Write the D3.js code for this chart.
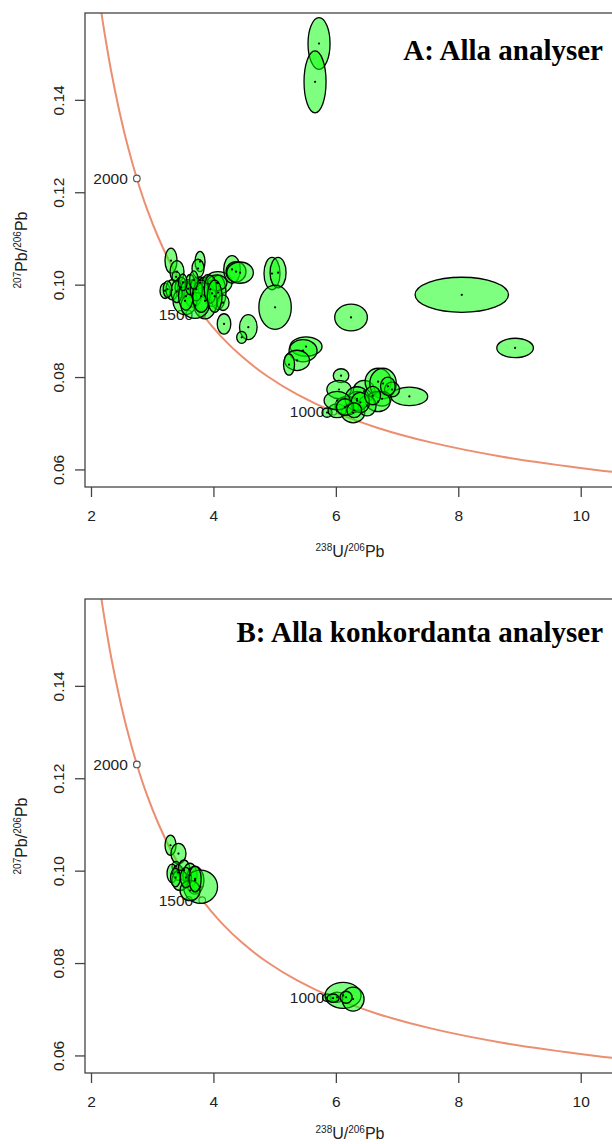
<!DOCTYPE html>
<html>
<head>
<meta charset="utf-8">
<script src="https://cdn.jsdelivr.net/npm/d3@7"></script>
<style>
  body { margin: 0; background: #fff; }
  svg text { font-family: "Liberation Sans", Arial, sans-serif; fill: #222; }
  .title { font-family: "Liberation Serif", "Times New Roman", serif; font-weight: bold; fill: #000; }
</style>
</head>
<body>
<svg width="612" height="1144"></svg>
<script>
// ---- data ----
const xTicks = [2, 4, 6, 8, 10];
const yTicks = [0.06, 0.08, 0.10, 0.12, 0.14];
const ageLabels = [2000, 1500, 1000];

// concordia (age in Ma, 238U/206Pb, 207Pb/206Pb)
const concAge = [2450, 2400, 2300, 2200, 2100, 2000, 1900, 1800, 1700, 1600, 1500, 1400, 1300, 1200, 1100, 1000, 900, 800, 700, 600, 580];
const concX = [2.163, 2.217, 2.332, 2.459, 2.597, 2.749, 2.917, 3.105, 3.314, 3.550, 3.817, 4.123, 4.476, 4.888, 5.375, 5.959, 6.674, 7.568, 8.718, 10.252, 10.622];
const concY = [0.15947, 0.15484, 0.14603, 0.13782, 0.13015, 0.12299, 0.11629, 0.11004, 0.10419, 0.09872, 0.09360, 0.08881, 0.08432, 0.08012, 0.07619, 0.07250, 0.06904, 0.06580, 0.06276, 0.05990, 0.05935];

// A: all analyses (centre and half axes of each error ellipse)
const aX = [5.725, 5.660, 8.057, 6.248, 8.928, 7.201,
  4.957, 5.056, 5.007, 4.173, 4.570, 4.462,
  4.075, 4.304, 4.369, 4.435,
  3.307, 3.405, 3.389, 3.781, 3.748, 3.209, 3.324, 3.471, 3.585, 3.667, 3.781, 3.846, 3.912, 3.977, 4.075, 3.863, 3.536, 3.699, 4.157, 4.059,
  3.250, 3.400, 3.550, 3.620, 3.720, 3.800, 3.950, 4.020, 3.680, 3.500,
  5.513, 5.464, 5.366, 5.235,
  6.085, 6.052, 6.461, 6.690, 6.771, 6.918, 6.346, 6.755, 6.690, 6.281, 5.856, 6.020, 6.183, 6.510, 6.346, 6.020,
  6.400, 6.600, 6.150, 6.850, 6.300];
const aY = [0.1522, 0.1439, 0.0978, 0.0929, 0.0863, 0.0758,
  0.1024, 0.1026, 0.0951, 0.0915, 0.0908, 0.0886,
  0.1004, 0.1033, 0.1028, 0.1026,
  0.1052, 0.1028, 0.1017, 0.1050, 0.1035, 0.0987, 0.0989, 0.0994, 0.0991, 0.0981, 0.1004, 0.0994, 0.1002, 0.0981, 0.0983, 0.0965, 0.0965, 0.0955, 0.0961, 0.1004,
  0.0990, 0.0985, 0.0975, 0.1000, 0.0990, 0.0975, 0.0990, 0.0975, 0.1010, 0.1005,
  0.0866, 0.0857, 0.0836, 0.0827,
  0.0803, 0.0773, 0.0769, 0.0790, 0.0786, 0.0773, 0.0749, 0.0753, 0.0747, 0.0723, 0.0723, 0.0727, 0.0738, 0.0738, 0.0753, 0.0749,
  0.0745, 0.0760, 0.0735, 0.0780, 0.0728];
const aErrX = [0.18, 0.18, 0.763, 0.267, 0.299, 0.299,
  0.131, 0.131, 0.265, 0.111, 0.144, 0.082,
  0.229, 0.136, 0.163, 0.217,
  0.098, 0.114, 0.065, 0.082, 0.098, 0.082, 0.098, 0.098, 0.114, 0.147, 0.082, 0.098, 0.098, 0.131, 0.131, 0.196, 0.196, 0.229, 0.098, 0.163,
  0.070, 0.090, 0.120, 0.080, 0.100, 0.140, 0.100, 0.120, 0.070, 0.070,
  0.261, 0.229, 0.204, 0.090,
  0.127, 0.199, 0.180, 0.212, 0.217, 0.123, 0.150, 0.150, 0.196, 0.191, 0.082, 0.147, 0.196, 0.147, 0.196, 0.212,
  0.150, 0.130, 0.140, 0.120, 0.120];
const aErrY = [0.0056, 0.0067, 0.0038, 0.0029, 0.0021, 0.0020,
  0.0035, 0.0033, 0.0048, 0.0022, 0.0027, 0.0013,
  0.0024, 0.0030, 0.0022, 0.0023,
  0.0027, 0.0024, 0.0011, 0.0022, 0.0020, 0.0017, 0.0022, 0.0022, 0.0020, 0.0030, 0.0013, 0.0022, 0.0020, 0.0028, 0.0037, 0.0039, 0.0030, 0.0028, 0.0017, 0.0017,
  0.0018, 0.0024, 0.0030, 0.0022, 0.0025, 0.0035, 0.0030, 0.0035, 0.0020, 0.0018,
  0.0021, 0.0024, 0.0022, 0.0023,
  0.0015, 0.0020, 0.0024, 0.0029, 0.0033, 0.0016, 0.0020, 0.0016, 0.0022, 0.0022, 0.0010, 0.0015, 0.0020, 0.0022, 0.0026, 0.0020,
  0.0022, 0.0020, 0.0018, 0.0020, 0.0016];

// B: concordant analyses only
const bX = [3.299, 3.429, 3.389, 3.324, 3.422, 3.520, 3.618, 3.699, 3.789, 3.454, 3.618, 3.380, 3.550, 3.700,
  5.856, 6.020, 6.118, 6.281, 6.167, 5.954];
const bY = [0.1055, 0.1037, 0.1009, 0.0994, 0.0996, 0.1001, 0.0990, 0.0979, 0.0965, 0.0979, 0.0957, 0.0985, 0.0985, 0.0982,
  0.0725, 0.0726, 0.0730, 0.0722, 0.0726, 0.0724];
const bErrX = [0.090, 0.123, 0.065, 0.082, 0.082, 0.098, 0.114, 0.147, 0.278, 0.131, 0.163, 0.080, 0.090, 0.100,
  0.074, 0.114, 0.294, 0.180, 0.098, 0.098];
const bErrY = [0.0022, 0.0022, 0.0011, 0.0020, 0.0017, 0.0022, 0.0026, 0.0030, 0.0036, 0.0022, 0.0022, 0.0020, 0.0022, 0.0028,
  0.0008, 0.0011, 0.0028, 0.0026, 0.0013, 0.0009];

// ---- layout ----
const svg = d3.select('svg');
const plotLeft = 85;
const plotRight = 615;
const plotHeight = 474;

const xScale = d3.scaleLinear().domain([1.902, 10.56]).range([plotLeft, plotRight]);
const yScale = d3.scaleLinear().domain([0.0562, 0.1588]).range([plotHeight, 0]);

const concordia = concX.map((x, i) => ({ age: concAge[i], x, y: concY[i] }));

const drawPanel = (props) => {
  const { id, top, title, titleY, xTitleY, xs, ys, errX, errY } = props;
  const rows = xs.map((x, i) => ({ x, y: ys[i], ex: errX[i], ey: errY[i] }));

  const g = svg.append('g').attr('transform', `translate(0, ${top})`);

  g.append('clipPath').attr('id', 'clip-' + id)
    .append('rect')
      .attr('x', plotLeft).attr('y', 0)
      .attr('width', plotRight - plotLeft).attr('height', plotHeight);

  const inner = g.append('g').attr('clip-path', `url(#clip-${id})`);

  // concordia line
  const line = d3.line()
    .x(d => xScale(d.x))
    .y(d => yScale(d.y))
    .curve(d3.curveCatmullRom);
  inner.append('path')
    .datum(concordia)
    .attr('d', line)
    .attr('fill', 'none')
    .attr('stroke', '#EC8E70')
    .attr('stroke-width', 2);

  // age ticks on concordia
  const ages = concordia.filter(d => ageLabels.includes(d.age));
  inner.selectAll('circle.age').data(ages)
    .join('circle')
      .attr('class', 'age')
      .attr('cx', d => xScale(d.x))
      .attr('cy', d => yScale(d.y))
      .attr('r', 3.3)
      .attr('fill', '#fff')
      .attr('stroke', '#555')
      .attr('stroke-width', 1.2);
  inner.selectAll('text.age').data(ages)
    .join('text')
      .attr('class', 'age')
      .attr('x', d => xScale(d.x) - 9)
      .attr('y', d => yScale(d.y))
      .attr('dy', '0.36em')
      .attr('text-anchor', 'end')
      .attr('font-size', 15.5)
      .text(d => d.age);

  // error ellipses
  inner.selectAll('ellipse').data(rows)
    .join('ellipse')
      .attr('cx', d => xScale(d.x))
      .attr('cy', d => yScale(d.y))
      .attr('rx', d => xScale(d.x + d.ex) - xScale(d.x))
      .attr('ry', d => yScale(d.y) - yScale(d.y + d.ey))
      .attr('fill', 'rgba(0,255,0,0.5)')
      .attr('stroke', '#000')
      .attr('stroke-width', 1.3);
  inner.selectAll('circle.dot').data(rows)
    .join('circle')
      .attr('class', 'dot')
      .attr('cx', d => xScale(d.x))
      .attr('cy', d => yScale(d.y))
      .attr('r', 1.1)
      .attr('fill', '#000');

  g.append('text')
    .attr('class', 'title')
    .attr('x', 603)
    .attr('y', titleY)
    .attr('text-anchor', 'end')
    .attr('font-size', 29)
    .text(title);

  // axes
  const xAxis = d3.axisBottom(xScale).tickValues(xTicks).tickSize(10).tickPadding(13).tickFormat(d3.format('d'));
  const xAxisG = g.append('g')
    .attr('transform', `translate(0, ${plotHeight})`)
    .call(xAxis);
  xAxisG.select('.domain').remove();

  const yAxis = d3.axisLeft(yScale).tickValues(yTicks).tickSize(10).tickFormat(d3.format('.2f'));
  const yAxisG = g.append('g')
    .attr('transform', `translate(${plotLeft}, 0)`)
    .call(yAxis);
  yAxisG.select('.domain').remove();
  yAxisG.selectAll('text')
    .attr('transform', 'rotate(-90)')
    .attr('x', 0)
    .attr('y', -21.5)
    .attr('dy', 0)
    .attr('text-anchor', 'middle');

  g.selectAll('.tick line').attr('stroke', '#444').attr('stroke-width', 1.3);
  g.selectAll('.tick text').attr('font-size', 15.5).attr('fill', '#222')
    .attr('font-family', '"Liberation Sans", Arial, sans-serif');

  g.append('rect')
    .attr('x', plotLeft).attr('y', 0)
    .attr('width', plotRight - plotLeft).attr('height', plotHeight)
    .attr('fill', 'none')
    .attr('stroke', '#444')
    .attr('stroke-width', 1.3);

  // axis titles
  const xt = g.append('text')
    .attr('x', 350)
    .attr('y', xTitleY)
    .attr('text-anchor', 'middle')
    .attr('font-size', 16);
  xt.append('tspan').attr('font-size', 10).attr('dy', -6).text('238');
  xt.append('tspan').attr('dy', 6).text('U/');
  xt.append('tspan').attr('font-size', 10).attr('dy', -6).text('206');
  xt.append('tspan').attr('dy', 6).text('Pb');

  const yt = g.append('text')
    .attr('transform', `translate(27, 237) rotate(-90)`)
    .attr('text-anchor', 'middle')
    .attr('font-size', 16);
  yt.append('tspan').attr('font-size', 10).attr('dy', -6).text('207');
  yt.append('tspan').attr('dy', 6).text('Pb/');
  yt.append('tspan').attr('font-size', 10).attr('dy', -6).text('206');
  yt.append('tspan').attr('dy', 6).text('Pb');
};

drawPanel({ id: 'a', top: 13, title: 'A: Alla analyser', titleY: 47, xTitleY: 544,
  xs: aX, ys: aY, errX: aErrX, errY: aErrY });
drawPanel({ id: 'b', top: 599, title: 'B: Alla konkordanta analyser', titleY: 43, xTitleY: 540,
  xs: bX, ys: bY, errX: bErrX, errY: bErrY });
</script>
</body>
</html>
